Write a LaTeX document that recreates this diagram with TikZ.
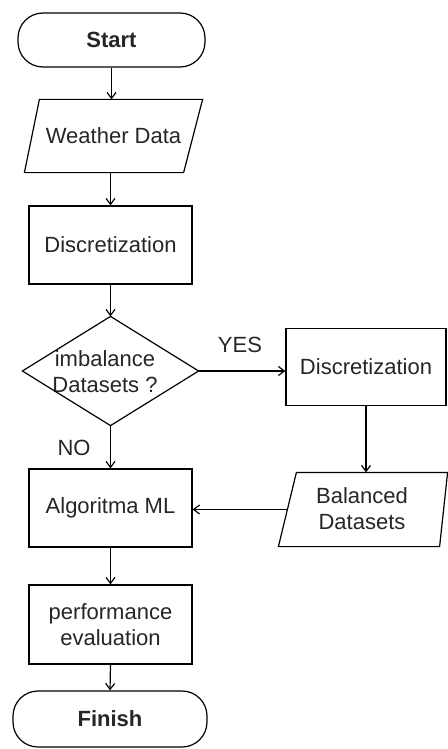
\documentclass[tikz,border=0pt]{standalone}
\usepackage{fontspec}
\setmainfont{Liberation Sans}
\usetikzlibrary{arrows.meta}
\begin{document}
\begin{tikzpicture}[x=1pt,y=-1pt,
  line width=1.2pt,
  >={Straight Barb[length=6pt,width=9pt,line width=1.2pt]},
  txt/.style={font=\fontsize{22}{26.5}\selectfont, text=black!85, inner sep=0pt, align=center},
  box/.style={draw, rectangle, minimum width=163pt, minimum height=78pt, txt},
  term/.style={draw, rectangle, rounded corners=25pt, txt, font=\fontsize{22}{26.5}\selectfont\bfseries},
  frame/.style={rectangle, inner sep=0pt, txt},
  conn/.style={->, draw=black}]
\useasboundingbox (0,0) rectangle (447,749);
\fill[white] (0,0) rectangle (447,749);

% nodes
\node[term, minimum width=187pt, minimum height=54pt] (start) at (111.5,40) {Start};
\node[frame, minimum width=177pt, minimum height=72pt] (wd) at (113.5,136) {Weather Data};
\node[box] (d1) at (110.5,245) {Discretization};
\node[frame, minimum width=175pt, minimum height=108pt] (dm) at (110.5,371) {};
\node[txt] (dmt) at (105,371.5) {imbalance\\Datasets ?};
\node[box, minimum width=160pt, minimum height=77pt] (d2) at (366,367) {Discretization};
\node[frame, minimum width=168pt, minimum height=73pt] (bal) at (363,509.5) {};
\node[txt] (balt) at (362,508.5) {Balanced\\Datasets};
\node[box] (alg) at (110.5,508) {Algoritma ML};
\node[box, minimum height=79pt] (perf) at (110.5,624.5) {performance\\evaluation};
\node[term, minimum width=194pt, minimum height=56pt] (fin) at (110,719) {Finish};
\node[txt] (yes) at (240,345) {YES};
\node[txt] (no) at (74,448) {NO};

% shapes drawn from node anchors
\draw ([xshift=15pt]wd.north west) -- (wd.north east) -- ([xshift=-19pt]wd.south east) -- (wd.south west) -- cycle;
\draw (dm.west) -- (dm.north) -- (dm.east) -- (dm.south) -- cycle;
\draw ([xshift=18pt]bal.north west) -- (bal.north east) -- ([xshift=-8pt]bal.south east) -- (bal.south west) -- cycle;
\coordinate (balin) at ([xshift=9pt]bal.west);

% connectors
\draw[conn] (start.south) -- (start.south |- wd.north);
\draw[conn] (wd.south -| d1.north) -- (d1.north);
\draw[conn] (d1.south) -- (dm.north);
\draw[conn] (dm.east) -- (dm.east -| d2.west);
\draw[conn] (dm.south) -- (alg.north);
\draw[conn] (d2.south) -- (d2.south |- bal.north);
\draw[conn] (balin) -- (balin -| alg.east);
\draw[conn] (alg.south) -- (perf.north);
\draw[conn] (perf.south) -- (fin.north);
\end{tikzpicture}
\end{document}
